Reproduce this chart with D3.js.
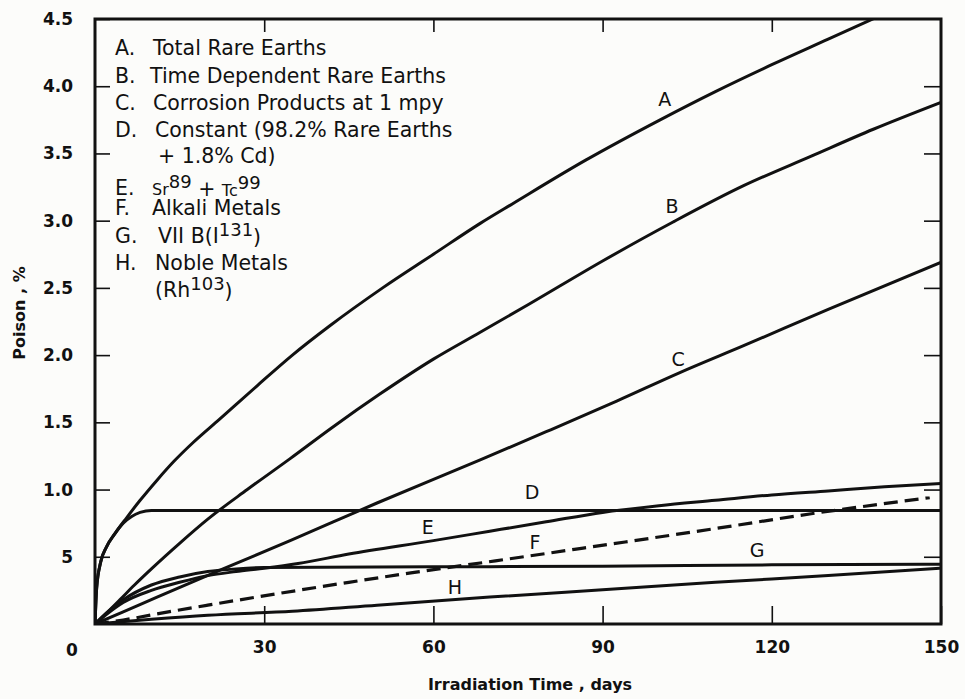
<!DOCTYPE html>
<head>
<meta charset="utf-8">
<title>Poison vs Irradiation Time</title>
<script type="text/javascript" src="https://d3js.org/d3.v7.min.js"></script>
<style>
    body { margin: 0; background: #fcfcfa; }
    text { font-family: "DejaVu Sans", sans-serif; fill: #111; }
</style>
</head>
<body>
    <div id="my_dataviz"></div>
<script>

    // curves: [days, poison %]
    var seriesA = [[0,0],[0.3,0.27],[1,0.46],[2,0.57],[3.5,0.67],[5.6,0.79],[8,0.92],[11,1.07],[14,1.21],[17.4,1.35],[22,1.52],[28.7,1.77],[35,2.0],[41.7,2.22],[51,2.5],[60,2.75],[68.3,2.98],[74.2,3.13],[87,3.45],[100.2,3.75],[110,3.96],[120,4.16],[130,4.35],[140,4.54]]
    var seriesB = [[0,0],[2,0.08],[4.4,0.18],[7,0.29],[10,0.41],[15,0.6],[20,0.78],[27,1.0],[34.6,1.23],[42,1.46],[50.5,1.71],[60,1.97],[68.3,2.17],[77,2.38],[90,2.7],[102.5,2.99],[115,3.26],[127,3.48],[138,3.68],[150,3.88]]
    var seriesC = [[0,0],[5,0.09],[11,0.2],[22.7,0.41],[34.6,0.62],[50,0.9],[68.3,1.22],[80,1.43],[92.6,1.66],[103.7,1.87],[115,2.07],[130,2.34],[150,2.69]]
    var seriesD = [[0,0],[0.3,0.27],[1,0.46],[2,0.57],[3.5,0.67],[5,0.75],[6.5,0.8],[8,0.83],[10,0.845],[150,0.845]]
    var seriesE = [[0,0],[2,0.07],[5,0.16],[10,0.25],[15,0.31],[20,0.36],[25,0.39],[30,0.415],[36,0.45],[45,0.52],[60,0.62],[70,0.69],[80,0.76],[90,0.83],[100,0.88],[110,0.92],[120,0.96],[130,0.99],[140,1.02],[150,1.045]]
    var seriesF = [[0,0],[5,0.03],[13,0.09],[20,0.14],[33,0.23],[45,0.31],[56,0.38],[71,0.47],[85,0.555],[94,0.61],[110,0.71],[127,0.82],[148,0.94]]
    var seriesG = [[0,0],[2,0.08],[5,0.18],[10,0.29],[15,0.35],[20,0.39],[25,0.41],[30,0.42],[60,0.425],[90,0.43],[120,0.44],[150,0.445]]
    var seriesH = [[0,0],[10,0.035],[20,0.065],[35,0.095],[50,0.14],[70,0.2],[90,0.255],[110,0.31],[130,0.36],[150,0.415]]

    // letter on each curve: [letter, days, poison %]
    var curveLabels = [["A",101,3.9],["B",102.3,3.11],["C",103.4,1.97],["D",77.5,0.98],["E",59,0.72],["F",78,0.61],["G",117.4,0.55],["H",63.8,0.27]]

    var xTicks = [0,30,60,90,120,150]
    var yTicks = [0.5,1.0,1.5,2.0,2.5,3.0,3.5,4.0,4.5]

    var width = 965, height = 699
    var margin = {left: 95, right: 941, top: 19, bottom: 624}

    var svg = d3.select("#my_dataviz")
      .append("svg")
        .attr("width", width)
        .attr("height", height)

    var x = d3.scaleLinear().domain([0,150]).range([margin.left, margin.right])
    var y = d3.scaleLinear().domain([0,4.5]).range([margin.bottom, margin.top])

    svg.append("defs").append("clipPath").attr("id", "plotclip")
      .append("rect")
        .attr("x", margin.left).attr("y", margin.top)
        .attr("width", margin.right - margin.left).attr("height", margin.bottom - margin.top)

    // axes, ticks drawn inward
    svg.append("g")
      .attr("transform", "translate(0," + margin.bottom + ")")
      .call(d3.axisBottom(x).tickValues(xTicks).tickSize(-18).tickPadding(17)
            .tickFormat(function(d) { return d == 0 ? "" : d; }))
    svg.append("g")
      .attr("transform", "translate(" + margin.left + ",0)")
      .call(d3.axisLeft(y).tickValues(yTicks).tickSize(-15).tickPadding(22)
            .tickFormat(function(d) { return d == 0.5 ? "5" : d3.format(".1f")(d); }))
    svg.append("g")
      .attr("transform", "translate(0," + margin.top + ")")
      .call(d3.axisTop(x).tickValues(xTicks.slice(1, -1)).tickSize(-13).tickFormat(""))
    svg.append("g")
      .attr("transform", "translate(" + margin.right + ",0)")
      .call(d3.axisRight(y).tickValues(yTicks.slice(0, -1)).tickSize(-17).tickFormat(""))

    svg.selectAll(".domain").remove()
    svg.selectAll(".tick line").attr("stroke", "#111").attr("stroke-width", 1.6)
    svg.selectAll(".tick text")
      .style("font-family", "'DejaVu Sans', sans-serif")
      .style("font-size", "17px").style("font-weight", "bold").attr("fill", "#111")

    // the "0" sits at the corner
    svg.append("text")
      .attr("x", x(0) - 23).attr("y", y(0) + 26)
      .attr("text-anchor", "middle").attr("dy", "0.35em")
      .style("font-size", "17px").style("font-weight", "bold")
      .text("0")

    // frame
    svg.append("rect")
      .attr("x", margin.left).attr("y", margin.top)
      .attr("width", margin.right - margin.left).attr("height", margin.bottom - margin.top)
      .attr("fill", "none").attr("stroke", "#111").attr("stroke-width", 3)

    var line = d3.line()
      .x(function(d) { return x(d[0]); })
      .y(function(d) { return y(d[1]); })
      .curve(d3.curveMonotoneX)

    var curves = [seriesA, seriesB, seriesC, seriesD, seriesE, seriesG, seriesH]
    var plot = svg.append("g").attr("clip-path", "url(#plotclip)")
    plot.selectAll("path.solid")
      .data(curves)
      .enter()
      .append("path")
        .attr("class", "solid")
        .attr("d", line)
        .attr("fill", "none")
        .attr("stroke", "#111")
        .attr("stroke-width", 3)
    plot.append("path")
      .attr("d", line(seriesF))
      .attr("fill", "none")
      .attr("stroke", "#111")
      .attr("stroke-width", 3.2)
      .attr("stroke-dasharray", "14,7")

    svg.selectAll("text.curvelab")
      .data(curveLabels)
      .enter()
      .append("text")
        .attr("class", "curvelab")
        .attr("x", function(d) { return x(d[1]); })
        .attr("y", function(d) { return y(d[2]); })
        .attr("dy", "0.35em")
        .attr("text-anchor", "middle")
        .style("font-size", "19px")
        .text(function(d) { return d[0]; })

    // legend block
    var legend = svg.append("g").attr("class", "legend").style("font-size", "20.5px")
    var legendLetters = [["A.",55],["B.",83],["C.",110],["D.",137],["E.",195],["F.",215],["G.",243],["H.",270]]
    legend.selectAll("text.letter")
      .data(legendLetters)
      .enter()
      .append("text")
        .attr("x", 115)
        .attr("y", function(d) { return d[1]; })
        .text(function(d) { return d[0]; })

    function legendLine(xp, yp, parts) {
        var t = legend.append("text").attr("x", xp).attr("y", yp)
        parts.forEach(function(p) {
            var s = t.append("tspan").text(p[0])
            if (p[1] == "sup") s.attr("dy", "-0.4em").style("font-size", "18px")
            if (p[1] == "base") s.attr("dy", "0.4em")
            if (p[1] == "small") s.style("font-size", "16px")
        })
    }
    legendLine(153, 55, [["Total Rare Earths"]])
    legendLine(150, 83, [["Time Dependent Rare Earths"]])
    legendLine(153, 110, [["Corrosion Products at 1 mpy"]])
    legendLine(155, 137, [["Constant (98.2% Rare Earths"]])
    legendLine(158, 163, [["+ 1.8% Cd)"]])
    legendLine(152, 195, [["Sr", "small"], ["89", "sup"], [" + ", "base"], ["Tc", "small"], ["99", "sup"]])
    legendLine(152, 215, [["Alkali Metals"]])
    legendLine(158, 243, [["VII B(I"], ["131", "sup"], [")", "base"]])
    legendLine(155, 270, [["Noble Metals"]])
    legendLine(155, 297, [["(Rh"], ["103", "sup"], [")", "base"]])

    // axis titles
    svg.append("text")
      .attr("x", 530).attr("y", 690)
      .attr("text-anchor", "middle")
      .style("font-size", "16px").style("font-weight", "bold")
      .text("Irradiation Time , days")

    svg.append("text")
      .attr("transform", "translate(25,313) rotate(-90)")
      .attr("text-anchor", "middle")
      .style("font-size", "16px").style("font-weight", "bold")
      .text("Poison , %")

</script>
</body>
